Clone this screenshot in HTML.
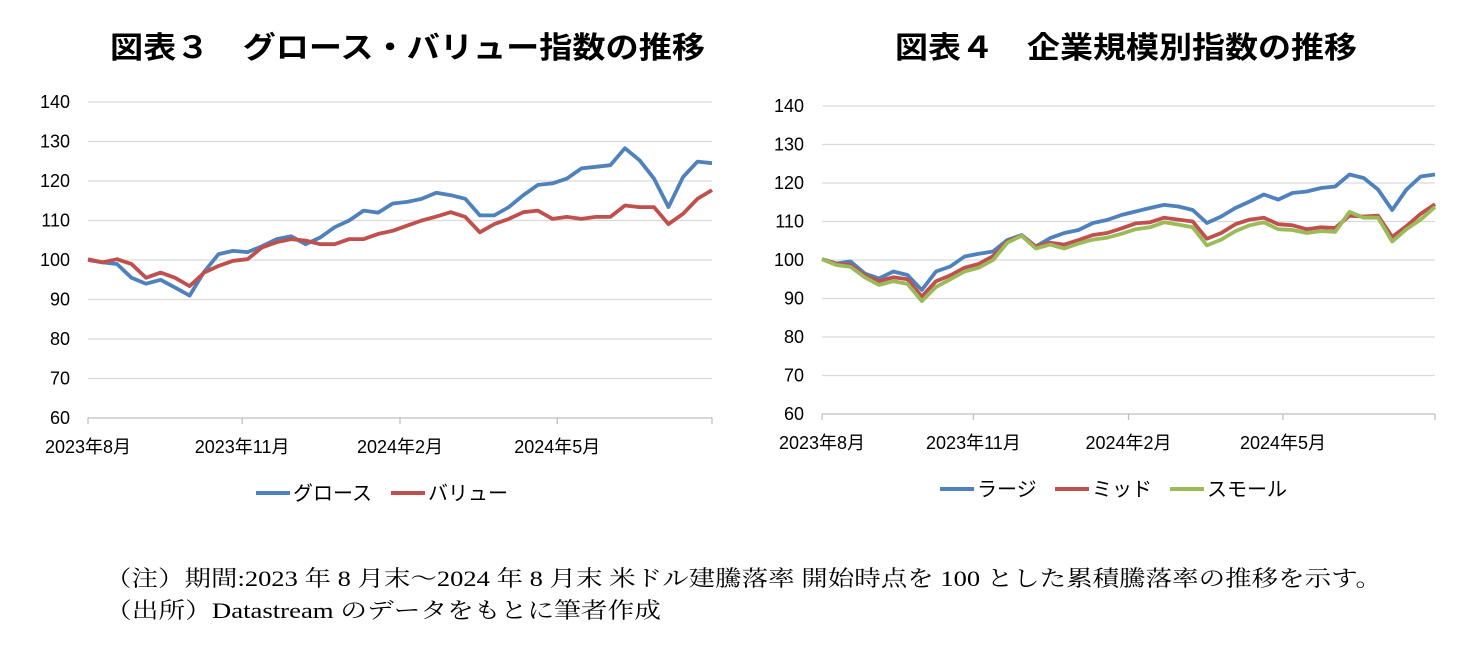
<!DOCTYPE html>
<html><head><meta charset="utf-8"><style>
body{margin:0;background:#fff;}
svg{display:block;font-family:"Liberation Sans","Noto Sans CJK JP",sans-serif;}
</style></head><body>
<svg id="s" width="1480" height="670" viewBox="0 0 1480 670">
<text x="110" y="58" textLength="595" lengthAdjust="spacingAndGlyphs" font-size="30" font-weight="bold" font-family="'Noto Sans CJK JP',sans-serif">図表３　グロース・バリュー指数の推移</text>
<text x="895" y="58" textLength="462" lengthAdjust="spacingAndGlyphs" font-size="30" font-weight="bold" font-family="'Noto Sans CJK JP',sans-serif">図表４　企業規模別指数の推移</text>
<text x="105" y="586" textLength="1277" lengthAdjust="spacingAndGlyphs" font-size="22" font-family="'Liberation Serif','Noto Serif CJK SC',serif">（注）期間:2023 年 8 月末～2024 年 8 月末 米ドル建騰落率 開始時点を 100 とした累積騰落率の推移を示す。</text>
<text x="105" y="618" textLength="556" lengthAdjust="spacingAndGlyphs" font-size="22" font-family="'Liberation Serif','Noto Serif CJK SC',serif">（出所）Datastream のデータをもとに筆者作成</text>
</svg>
<script>
const yTicks=[60,70,80,90,100,110,120,130,140];
const xLabels=["2023年8月","2023年11月","2024年2月","2024年5月"];
const xLabelPos=[0,0.247,0.5,0.752];
const growth=[100,99.4,99,95.5,94,95,93,91,97,101.5,102.3,102,103.5,105.3,106,104,105.7,108.3,110,112.5,112,114.3,114.7,115.5,117,116.4,115.5,111.3,111.3,113.4,116.4,119,119.4,120.6,123.2,123.6,124,128.3,125.3,120.6,113.4,121,124.9,124.5];
const value=[100.2,99.4,100.2,99,95.5,96.8,95.5,93.4,96.8,98.5,99.8,100.2,103.2,104.5,105.3,104.9,104,104,105.3,105.3,106.6,107.4,108.7,110,111,112.1,110.9,107,109.1,110.4,112.1,112.5,110.4,110.9,110.4,110.9,110.9,113.8,113.4,113.4,109.1,111.7,115.5,117.7];
const large=[100.2,99.1,99.6,96.5,95.2,97,96.1,92.2,97,98.3,100.9,101.6,102.2,105.2,106.5,103.5,105.7,107,107.8,109.6,110.4,111.7,112.6,113.5,114.3,113.9,113,109.6,111.3,113.5,115.2,117,115.7,117.4,117.8,118.7,119.1,122.2,121.3,118.3,113,118.3,121.7,122.2];
const mid=[100.2,99,98.7,96,94.5,95.5,95,90.5,94.5,96,98,99,101,104.8,106.3,103.5,104.5,104,105.2,106.5,107,108.2,109.5,109.8,111,110.5,110,105.5,107,109.3,110.5,111,109.3,109,108,108.5,108.3,111.5,111.3,111.5,106,108.8,112,114.5];
const small=[100.2,98.7,98.2,95.5,93.5,94.5,93.8,89.3,93,95,97,98,100,104.5,106.3,103,104,103,104.3,105.3,105.8,106.8,108,108.5,109.8,109.2,108.5,103.8,105.3,107.5,109,109.8,108,107.8,107,107.5,107.3,112.5,111,111,104.8,108,110.5,113.8];
const legend3=["グロース","バリュー"];
const legend4=["ラージ","ミッド","スモール"];
const colors=["#4f81bd","#c0504d","#9bbb59"];
const NS="http://www.w3.org/2000/svg";
const svg=document.getElementById('s');
function mk(t,a,parent){const e=document.createElementNS(NS,t);for(const k in a)e.setAttribute(k,a[k]);(parent||svg).appendChild(e);return e;}
function chart(cfg){
 const {x0,x1,yTop,yBot,series,names,legY,legX,pre}=cfg;
 const ys=v=>yBot-(v-60)/80*(yBot-yTop);
 const g=mk('g',{});
 
 
 yTicks.forEach(t=>{
  if(t>60){const l=mk('line',{x1:x0,x2:x1,y1:ys(t),y2:ys(t),stroke:'#d9d9d9','stroke-width':1.3},g);
  
  }
  const tx=mk('text',{x:x0-18,y:ys(t)+6,'text-anchor':'end','font-size':18,fill:'#000'},g);
  tx.textContent=t;
  
  
 });
 const ax=mk('line',{x1:x0,x2:x1,y1:yBot,y2:yBot,stroke:'#bfbfbf','stroke-width':1.3},g);
 
 
 xLabelPos.concat([1]).forEach(p=>{mk('line',{x1:x0+p*(x1-x0),x2:x0+p*(x1-x0),y1:yBot,y2:yBot+6,stroke:'#bfbfbf','stroke-width':1.3},g);});
 xLabels.forEach((s,i)=>{
  const tx=mk('text',{x:x0+xLabelPos[i]*(x1-x0),y:yBot+35,'text-anchor':'middle','font-size':18},g);
  tx.textContent=s;
  
  
 });
 series.forEach((d,si)=>{
  const pts=d.map((v,i)=>(x0+i/(d.length-1)*(x1-x0)).toFixed(1)+','+ys(v).toFixed(1)).join(' ');
  const p=mk('polyline',{points:pts,fill:'none',stroke:colors[si],'stroke-width':3.8,'stroke-linejoin':'round'},g);
  
  
 });
 let lx=legX;
 names.forEach((n,si)=>{
  const l=mk('line',{x1:lx,x2:lx+34,y1:legY,y2:legY,stroke:colors[si],'stroke-width':4},g);
  
  
  const tx=mk('text',{x:lx+37,y:legY+7,'font-size':20},g);
  tx.textContent=n;
  
  
  lx+=37+n.length*20+18;
 });
}
chart({x0:88,x1:712,yTop:102,yBot:418,series:[growth,value],names:legend3,legY:493,legX:256,pre:'chart3'});
chart({x0:822,x1:1435,yTop:106,yBot:414,series:[large,mid,small],names:legend4,legY:489,legX:940,pre:'chart4'});
</script>
</body></html>
